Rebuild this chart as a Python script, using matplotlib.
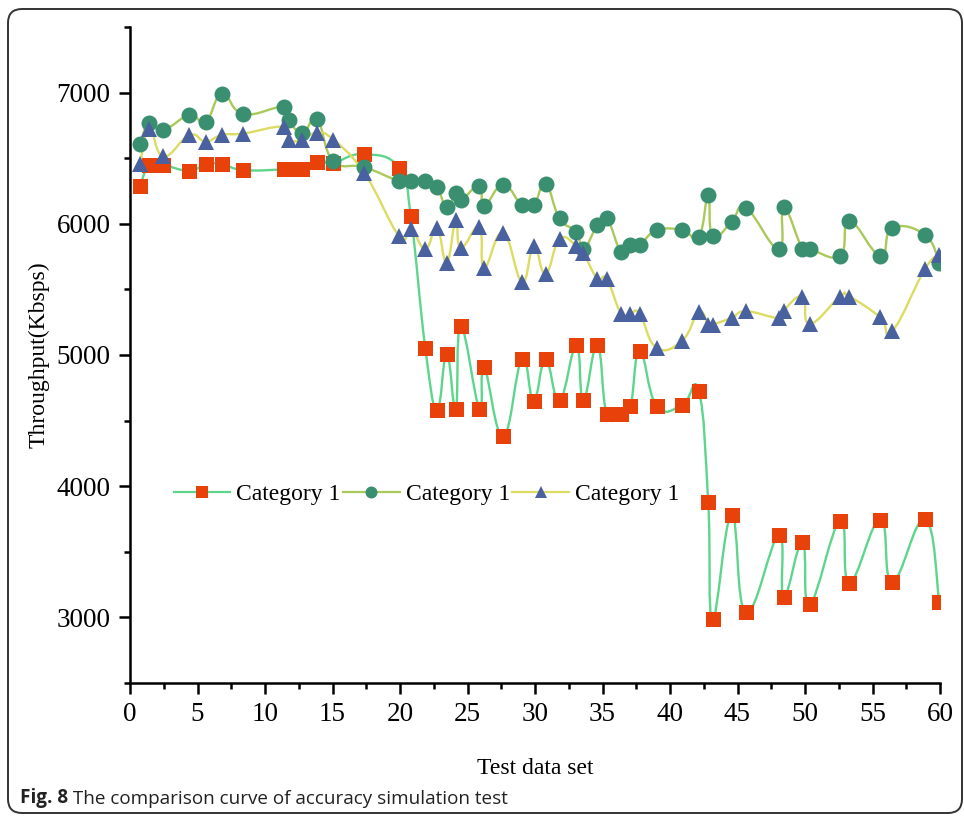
import numpy as np
import matplotlib
matplotlib.use("Agg")
import matplotlib.pyplot as plt
from matplotlib.path import Path
from matplotlib.patches import PathPatch, FancyBboxPatch
from matplotlib.lines import Line2D

# test data set positions (shared by all three curves)
test_set = [0.74, 1.43, 2.47, 4.4, 5.6, 6.82, 8.4, 11.38, 11.75, 12.77, 13.86, 15.05,
            17.35, 19.94, 20.8, 21.87, 22.74, 23.46, 24.13, 24.5, 25.88, 26.23, 27.64,
            29.03, 29.9, 30.78, 31.82, 33.06, 33.58, 34.62, 35.31, 36.38, 37.07, 37.76,
            39.0, 40.9, 42.14, 42.83, 43.15, 44.56, 45.63, 48.05, 48.42, 49.81, 50.35,
            52.6, 53.29, 55.57, 56.46, 58.89, 59.95]

# throughput (Kbsps) of the three curves
squares = [6290, 6447, 6447, 6404, 6455, 6455, 6409, 6414, 6414, 6417, 6473, 6467,
           6531, 6427, 6062, 5057, 4583, 5009, 4585, 5222, 4590, 4907, 4380,
           4966, 4651, 4966, 4654, 5078, 4654, 5078, 4552, 4552, 4608, 5032,
           4613, 4616, 4722, 3877, 2985, 3779, 3038, 3626, 3152, 3575, 3099,
           3738, 3266, 3746, 3271, 3748, 3117]
circles = [6607, 6772, 6716, 6828, 6777, 6988, 6836, 6891, 6792, 6691, 6795, 6480,
           6432, 6325, 6326, 6328, 6277, 6125, 6234, 6181, 6290, 6135, 6298,
           6140, 6140, 6303, 6041, 5938, 5805, 5991, 6046, 5785, 5841, 5841,
           5950, 5953, 5900, 6222, 5904, 6014, 6120, 5805, 6125, 5808, 5808,
           5755, 6021, 5757, 5968, 5915, 5702]
triangles = [6455, 6726, 6513, 6676, 6627, 6678, 6688, 6739, 6638, 6642, 6695, 6642,
             6389, 5907, 5963, 5808, 5968, 5704, 6029, 5816, 5976, 5664, 5932,
             5559, 5828, 5618, 5884, 5833, 5780, 5580, 5580, 5314, 5314, 5314,
             5055, 5110, 5326, 5232, 5232, 5283, 5333, 5283, 5339, 5445, 5237,
             5445, 5445, 5288, 5181, 5656, 5760]

labels = ["Category 1", "Category 1", "Category 1"]


def spline_path(xs, ys, k=4.5):
    # smooth connecting line (Catmull-Rom style cubic bezier segments)
    pts = np.column_stack([xs, ys]).astype(float)
    verts = [pts[0]]
    codes = [Path.MOVETO]
    n = len(pts)
    for i in range(n - 1):
        p0 = pts[i - 1] if i > 0 else pts[i]
        p1, p2 = pts[i], pts[i + 1]
        p3 = pts[i + 2] if i + 2 < n else pts[i + 1]
        verts += [p1 + (p2 - p0) / k, p2 - (p3 - p1) / k, p2]
        codes += [Path.CURVE4] * 3
    return Path(verts, codes)


plt.rcParams['font.family'] = ['Liberation Serif', 'DejaVu Serif']

fig = plt.figure(figsize=(9.64, 8.16), dpi=100)
ax = fig.add_axes([130 / 964, 1 - 683 / 816, 810 / 964, 656 / 816])

series = [
    (squares, 's', '#e8410a', '#5dd68c', 10.8),
    (circles, 'o', '#3a8f70', '#a9c95a', 11.5),
    (triangles, '^', '#4a61a0', '#dcdc62', 12),
]

handles = []
for (vals, mk, mcol, lcol, ms), lab in zip(series, labels):
    ax.add_patch(PathPatch(spline_path(test_set, vals), fill=False,
                           edgecolor=lcol, lw=1.7))
    ax.plot(test_set, vals, linestyle='none', marker=mk, ms=ms,
            color=mcol, markeredgewidth=0)
    handles.append(Line2D([], [], color=lcol, lw=1.6, marker=mk, ms=ms * 0.75,
                          markerfacecolor=mcol, markeredgewidth=0))

ax.set_xlim(0, 60)
ax.set_ylim(2500, 7500)
ax.set_xticks(np.arange(0, 61, 5))
ax.set_xticks(np.arange(0, 61, 2.5), minor=True)
ax.set_yticks([3000, 4000, 5000, 6000, 7000])
ax.set_yticks(np.arange(2500, 7501, 500), minor=True)

for s in ['top', 'right']:
    ax.spines[s].set_visible(False)
for s in ['left', 'bottom']:
    ax.spines[s].set_linewidth(1.8)

ax.tick_params(which='major', direction='out', length=8, width=1.8,
               labelsize=19.5, pad=6)
ax.tick_params(which='minor', direction='out', length=4, width=1.8)

ax.set_xlabel('Test data set', fontsize=17, labelpad=22)
ax.set_ylabel('Throughput(Kbsps)', fontsize=17, labelpad=5)

ax.legend(handles, labels, ncol=3, frameon=False, fontsize=17,
          loc='center', bbox_to_anchor=(0.366, 0.287),
          handlelength=2.4, handletextpad=0.25, columnspacing=0.1,
          borderpad=0, borderaxespad=0)

# figure caption
cap = fig.text(20 / 964, 1 - 803 / 816, 'Fig. 8', fontsize=13.6, fontweight='bold',
               family='Open Sans', va='baseline', color='#222222')
ax.annotate(' The comparison curve of accuracy simulation test', xy=(1, 0),
            xycoords=cap, va='bottom', fontsize=13.6, family='Open Sans',
            color='#222222', annotation_clip=False)

# rounded outer frame
frame = FancyBboxPatch((0.08, 0.03), 9.54, 8.04,
                       boxstyle='round,pad=0,rounding_size=0.14',
                       transform=fig.dpi_scale_trans, fill=False,
                       edgecolor='#333333', lw=1.4)
fig.patches.append(frame)

fig.savefig('out.png', dpi=100)
